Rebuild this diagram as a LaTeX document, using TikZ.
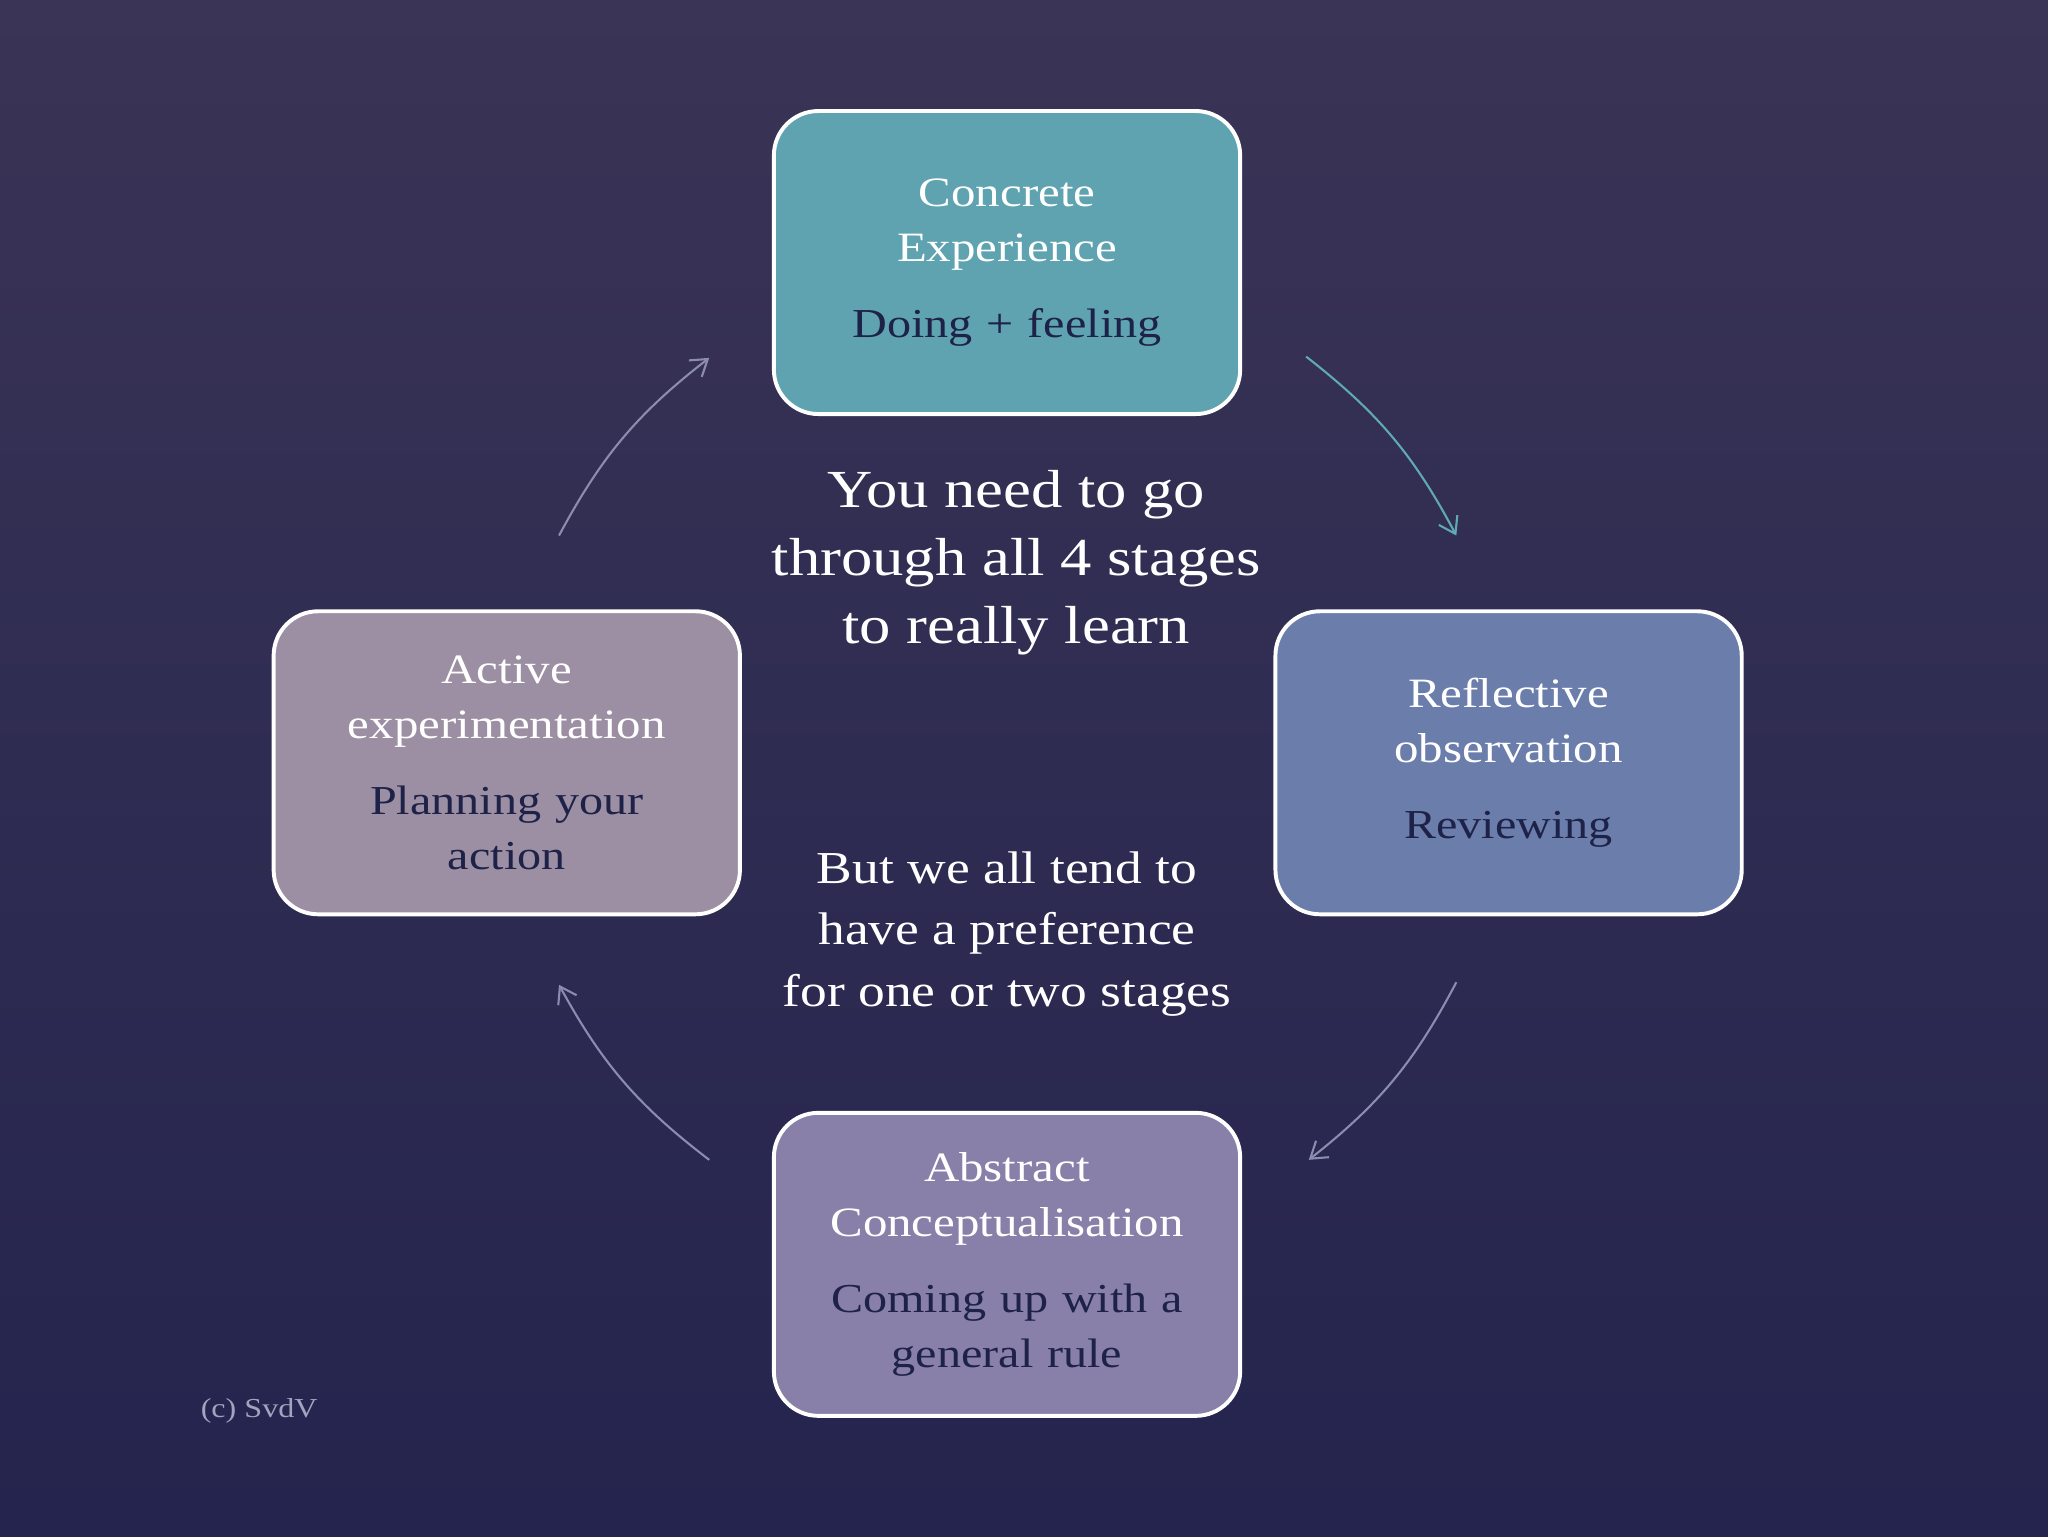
\documentclass[tikz,border=0pt]{standalone}
\usepackage{fontspec}
\setmainfont[FakeStretch=1.17]{Liberation Serif}
\definecolor{bgtop}{RGB}{58, 52, 86}
\definecolor{bgbot}{RGB}{36, 36, 78}
\definecolor{myteal}{RGB}{95, 163, 176}
\definecolor{myblue}{RGB}{107, 125, 170}
\definecolor{mylilac}{RGB}{136, 128, 168}
\definecolor{mymauve}{RGB}{156, 143, 163}
\definecolor{subtext}{RGB}{30, 34, 72}
\definecolor{arrowteal}{RGB}{95, 170, 180}
\definecolor{arrowgray}{RGB}{140, 140, 175}
\usetikzlibrary{positioning}
\tikzset{every picture/.style={line width=0.75pt}}
\tikzset{
  stage/.style={draw=white, line width=3pt, rounded corners=34pt,
    minimum width=357pt, minimum height=232pt, text width=340pt,
    align=center, text=white, font=\fontsize{32}{42}\selectfont},
  cycle arrow/.style={line width=1.6pt, ->, >={Straight Barb[length=12pt,width=16pt]}},
  centertext/.style={text=white, align=center}
}
\usetikzlibrary{arrows.meta}

\begin{document}
\begin{tikzpicture}[x=1pt,y=-1pt]
% background
\shade[top color=bgtop, bottom color=bgbot] (0,0) rectangle (1568,1176);
\useasboundingbox (0,0) rectangle (1568,1176);

% stages
\node[stage, fill=myteal] (concrete) at (771,201)
  {Concrete\\Experience\\[16pt]{\color{subtext}\fontsize{31.5}{42}\selectfont Doing + feeling}};
\node[stage, fill=myblue] (reflective) at (1155,584)
  {Reflective\\observation\\[16pt]{\color{subtext}\fontsize{31.5}{42}\selectfont Reviewing}};
\node[stage, fill=mylilac] (abstract) at (771,968)
  {Abstract\\Conceptualisation\\[16pt]{\color{subtext}\fontsize{31.5}{42}\selectfont Coming up with a\\general rule}};
\node[stage, fill=mymauve] (active) at (388,584)
  {Active\\experimentation\\[16pt]{\color{subtext}\fontsize{31.5}{42}\selectfont Planning your\\action}};

% arrow ends
\coordinate (a1) at (1000,273); \coordinate (b1) at (1115,410);
\coordinate (a2) at (1115,752); \coordinate (b2) at (1002,888);
\coordinate (a3) at (543,888);  \coordinate (b3) at (428,754);
\coordinate (a4) at (428,410);  \coordinate (b4) at (543,274);
\draw[cycle arrow, arrowteal] (a1) to[bend left=12] (b1);
\draw[cycle arrow, arrowgray] (a2) to[bend left=12] (b2);
\draw[cycle arrow, arrowgray] (a3) to[bend left=12] (b3);
\draw[cycle arrow, arrowgray] (a4) to[bend left=12] (b4);

% middle text
\node[centertext, font=\fontsize{41}{52}\selectfont] (stages) at (778,431)
  {You need to go\\through all 4 stages\\to really learn};
\node[centertext, font=\fontsize{35}{47}\selectfont] (preference) at (771,715)
  {But we all tend to\\have a preference\\for one or two stages};

\node[text=arrowgray!80!white, font=\fontsize{21}{24}\selectfont, anchor=west] (credit) at (150,1080) {(c) SvdV};
\end{tikzpicture}
\end{document}
